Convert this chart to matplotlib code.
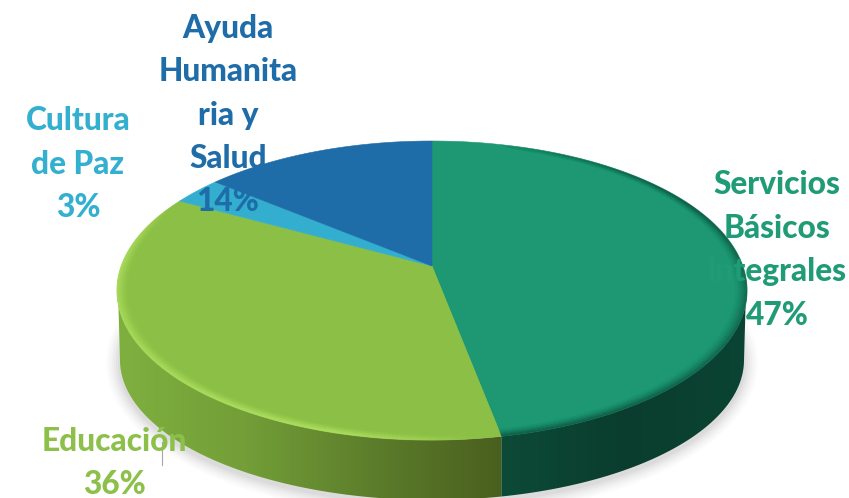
import numpy as np
import matplotlib
matplotlib.use("Agg")
import matplotlib.pyplot as plt
from matplotlib.collections import LineCollection
from matplotlib.colors import LinearSegmentedColormap, to_rgb
from matplotlib.patches import Ellipse, Polygon

categories = ["Servicios\nBásicos\nIntegrales", "Educación", "Cultura\nde Paz", "Ayuda\nHumanita\nria y\nSalud"]
values = [47, 36, 3, 14]
face_colors = ["#1E9873", "#8BBF45", "#33AECF", "#1E6DA8"]
text_colors = ["#1F9B76", "#8CC04A", "#33AFD0", "#1F6DA8"]
label_pos = [(777, 250), (114, 463), (78, 164), (228, 115)]

# perspective of the pie plane, in pixels
CX, CY = 432, 266
A, B, K = 310.7, 145.5, 0.164
BOT_Y, BOT_RX, BOT_RY = 360, 312, 140


def project(theta, r=1.0):
    x = r * np.sin(theta)
    y = r * np.cos(theta)
    w = 1 + K * y
    return CX + A * x / w, CY - B * y / w


def arc(t0, t1, r=1.0, n=160):
    return np.column_stack(project(np.linspace(t0, t1, n), r))


def bottom_arc(t0, t1, n=160):
    t = np.linspace(t0, t1, n)
    return np.column_stack((CX + BOT_RX * np.sin(t), BOT_Y - BOT_RY * np.cos(t)))


def rim(ax, t0, t1, color, strength, alpha_of, depth=0.04, layers=24):
    # soft bevel: stacked arcs just inside the edge
    rgb = to_rgb(color)
    mid = np.linspace(t0, t1, 199)
    for i in range(layers):
        r = 1 - depth * i / layers
        pts = arc(t0, t1, r, 200)
        segs = np.stack((pts[:-1], pts[1:]), axis=1)
        a = strength * (1 - i / layers) ** 2 * alpha_of(mid)
        cols = np.column_stack((np.tile(rgb, (199, 1)), np.clip(a, 0, 1)))
        ax.add_collection(LineCollection(segs, colors=cols, linewidths=1.0, zorder=4))


fig = plt.figure(figsize=(8.49, 4.98), dpi=100)
ax = fig.add_axes([0, 0, 1, 1])

edges = np.cumsum([0] + values) / sum(values) * 2 * np.pi
seam = edges[1]
seam_x = project(seam)[0]
seam_bot = np.pi - np.arcsin((seam_x - CX) / BOT_RX)
left_t = 1.5 * np.pi - 0.1
right_t = 0.5 * np.pi + 0.1

# soft shadow under the pie
for grow, alpha in zip(range(14, 0, -2), [0.015, 0.02, 0.025, 0.03, 0.035, 0.04, 0.05]):
    ax.add_patch(Ellipse((CX, BOT_Y + 3), 2 * (BOT_RX + grow), 2 * (BOT_RY + grow),
                         facecolor="#555555", edgecolor="none", alpha=alpha, zorder=1))

# side wall, lime part
lime_wall = np.vstack((arc(seam, left_t), bottom_arc(1.5 * np.pi, seam_bot)))
poly = Polygon(lime_wall, closed=True, facecolor="none", edgecolor="none", zorder=2)
ax.add_patch(poly)
cmap = LinearSegmentedColormap.from_list("lime", ["#7FB03F", "#739E38", "#5C7D2B", "#4A5F1E"])
img = ax.imshow(np.linspace(0, 1, 256)[None, :], extent=(117, seam_x, 498, 280), cmap=cmap, aspect="auto", zorder=2)
img.set_clip_path(poly)

# side wall, dark green part
green_wall = np.vstack((arc(seam, right_t), bottom_arc(0.5 * np.pi, seam_bot)))
poly = Polygon(green_wall, closed=True, facecolor="none", edgecolor="none", zorder=2)
ax.add_patch(poly)
cmap = LinearSegmentedColormap.from_list("deep", ["#0D4A37", "#0A3D2D", "#0B4433"])
img = ax.imshow(np.linspace(0, 1, 256)[None, :], extent=(seam_x, 748, 498, 280), cmap=cmap, aspect="auto", zorder=2)
img.set_clip_path(poly)

# top face
for i, color in enumerate(face_colors):
    pts = np.vstack(([[CX, CY]], arc(edges[i], edges[i + 1])))
    ax.add_patch(Polygon(pts, closed=True, facecolor=color, edgecolor=color, linewidth=0.4, zorder=3))

# bevel on the rim
span = edges[2] - edges[1]
rim(ax, edges[1], edges[2], "#B4E664", 0.45,
    lambda t: np.clip(np.sin((t - edges[1]) / span * np.pi) * 1.8 - 0.1, 0, 1), depth=0.045)
rim(ax, 0.25, edges[1], "#0B4A37", 0.3,
    lambda t: np.clip((t - 0.25) / 0.9, 0, 1), depth=0.04)

for name, val, color, (x, y) in zip(categories, values, text_colors, label_pos):
    ax.text(x, y, f"{name}\n{val}%", color=color, family="Lato", fontweight=900, fontsize=22.8,
            ha="center", va="center", linespacing=1.6, zorder=6)

# leader line of Educación
ax.plot([162, 162], [442, 465], color="#A6A6A6", linewidth=0.8, zorder=5)

ax.set_xlim(0, 849)
ax.set_ylim(498, 0)
ax.set_axis_off()

fig.savefig("out.png", dpi=100)
plt.close(fig)
